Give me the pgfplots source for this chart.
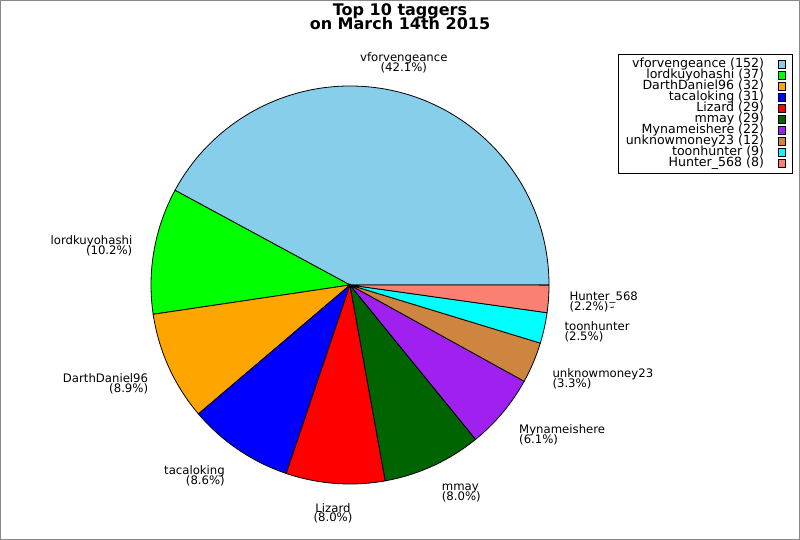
\documentclass[border=0pt]{standalone}
\usepackage{fontspec}
\setmainfont{DejaVu Sans}
\usepackage{pgfplots}
\usepackage{pgfplotstable}
\pgfplotsset{compat=1.18}

\definecolor{c0}{HTML}{87CEEB}
\definecolor{c1}{HTML}{00FF00}
\definecolor{c2}{HTML}{FFA500}
\definecolor{c3}{HTML}{0000FF}
\definecolor{c4}{HTML}{FF0000}
\definecolor{c5}{HTML}{006400}
\definecolor{c6}{HTML}{A020F0}
\definecolor{c7}{HTML}{CD853F}
\definecolor{c8}{HTML}{00FFFF}
\definecolor{c9}{HTML}{FA8072}
\definecolor{framegray}{HTML}{888888}

% tagger counts (pie drawn about centre cx,cy in pixel units)
\pgfplotstableread{
idx count cx cy
0 152 350 255
1 37 350 255
2 32 350 255
3 31 350 255
4 29 350 255
5 29 350 255
6 22 350 255
7 12 350 255
8 9 350 255
9 8 350 255
}\taggers
\def\pietotal{361}

\gdef\pieacc{0}
\gdef\piesa{0}
\gdef\pieea{0}
\gdef\piecol{0}
\pgfdeclareplotmark{pieslice}{%
  \pgfpathmoveto{\pgfpointorigin}%
  \pgfpathlineto{\pgfpointpolar{\piesa}{199bp}}%
  \pgfpatharc{\piesa}{\pieea}{199bp}%
  \pgfpathclose
  \pgfusepathqfillstroke
}

\newcommand\pieleg[1]{\addlegendimage{legend image code/.code={%
  \path (0bp,0bp);%
  \filldraw[fill=#1,draw=black,line width=0.8bp] (12.5bp,-4bp) rectangle (19.5bp,4bp);}}}

\newcommand\lab[5]{% x, y (pixel baseline), unused, anchor, text
  \node[anchor=#4,inner sep=0pt,font=\fontsize{11.7bp}{11bp}\selectfont] at (axis cs:#1,540-#2) {#5};}

\begin{document}
\begin{tikzpicture}
\begin{axis}[
  width=800bp, height=540bp, scale only axis,
  xmin=0, xmax=800, ymin=0, ymax=540,
  hide axis, clip=false,
  legend cell align=right,
  legend plot pos=right,
  legend style={at={(axis cs:793,486)}, anchor=north east,
    draw=black, line width=1bp, fill=white,
    inner xsep=7bp, inner ysep=4.6bp,
    row sep=0pt, column sep=1bp,
    font=\fontsize{12.6bp}{11bp}\selectfont,
    nodes={inner xsep=0pt, inner ysep=0pt, text height=8.8bp, text depth=2.2bp}},
]
\draw[framegray, line width=1bp] (axis cs:0.5,0.5) rectangle (axis cs:799.5,539.5);

\addplot[forget plot, scatter, only marks, mark=pieslice,
  visualization depends on={\thisrow{count} \as \piecnt},
  visualization depends on={\thisrow{idx} \as \pieidx},
  scatter/@pre marker code/.code={%
    \begingroup
      \pgfkeys{/pgf/fpu=false}%
      \pgfmathsetmacro\tmpa{\pieacc}%
      \pgfmathsetmacro\tmpb{\pieacc+(\piecnt/\pietotal)*360}%
      \pgfmathtruncatemacro\tmpc{round(\pieidx)}%
      \xdef\piesa{\tmpa}\xdef\pieea{\tmpb}\xdef\pieacc{\tmpb}\xdef\piecol{\tmpc}%
    \endgroup
    \pgfscope
    \pgfsetfillcolor{c\piecol}\pgfsetstrokecolor{black}\pgfsetlinewidth{0.8bp}%
  },
  scatter/@post marker code/.code={\endpgfscope},
] table[x=cx, y=cy] {\taggers};

\pieleg{c0}\pieleg{c1}\pieleg{c2}\pieleg{c3}\pieleg{c4}
\pieleg{c5}\pieleg{c6}\pieleg{c7}\pieleg{c8}\pieleg{c9}
\legend{vforvengeance (152), lordkuyohashi (37), DarthDaniel96 (32),
  tacaloking (31), Lizard (29), mmay (29), Mynameishere (22),
  unknowmoney23 (12), toonhunter (9), Hunter\_568 (8)}

% title
\node[anchor=base,inner sep=0pt,font=\fontsize{16bp}{14bp}\selectfont\bfseries] at (axis cs:400,524) {Top 10 taggers};
\node[anchor=base,inner sep=0pt,font=\fontsize{16bp}{14bp}\selectfont\bfseries] at (axis cs:400,510) {on March 14th 2015};

% slice labels
\lab{403.8}{61.7}{}{base}{vforvengeance}
\lab{403.8}{71.5}{}{base}{(42.1\%)}
\lab{132.5}{245}{}{base east}{lordkuyohashi}
\lab{132.5}{255}{}{base east}{(10.2\%)}
\lab{148.3}{382.7}{}{base east}{DarthDaniel96}
\lab{148.3}{392.5}{}{base east}{(8.9\%)}
\lab{225}{475}{}{base east}{tacaloking}
\lab{225}{485}{}{base east}{(8.6\%)}
\lab{333}{512.3}{}{base}{Lizard}
\lab{333}{522}{}{base}{(8.0\%)}
\lab{441.7}{490.7}{}{base west}{mmay}
\lab{441.7}{500.7}{}{base west}{(8.0\%)}
\lab{519}{434}{}{base west}{Mynameishere}
\lab{519}{444}{}{base west}{(6.1\%)}
\lab{552.3}{377.3}{}{base west}{unknowmoney23}
\lab{552.3}{387.3}{}{base west}{(3.3\%)}
\lab{564.3}{331}{}{base west}{toonhunter}
\lab{564.3}{341}{}{base west}{(2.5\%)}
\lab{569.3}{300.7}{}{base west}{Hunter\_568}
\lab{569.3}{310.5}{}{base west}{(2.2\%)}
\draw[black, line width=0.8bp] (axis cs:610.5,232.5) -- (axis cs:614,233);
\end{axis}
\end{tikzpicture}
\end{document}
